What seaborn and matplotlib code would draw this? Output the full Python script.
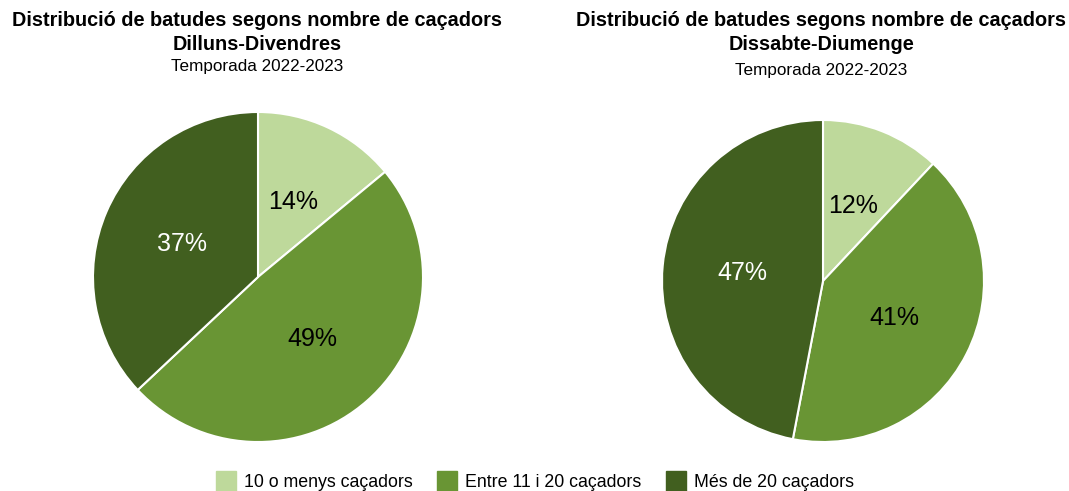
import matplotlib
matplotlib.use("Agg")
import matplotlib.pyplot as plt
import seaborn as sns

categories = ["10 o menys caçadors", "Entre 11 i 20 caçadors", "Més de 20 caçadors"]
weekday_pct = [14, 49, 37]
weekend_pct = [12, 41, 47]
panel_titles = ["Dilluns-Divendres", "Dissabte-Diumenge"]
main_title = "Distribució de batudes segons nombre de caçadors"
season = "Temporada 2022-2023"

sns.set_theme(style="white")
plt.rcParams["font.family"] = ["Liberation Sans", "DejaVu Sans"]
plt.rcParams["text.color"] = "black"
palette = ["#bed99b", "#699534", "#415f1f"]
label_colors = ["black", "black", "white"]

fig = plt.figure(figsize=(10.69, 4.91), dpi=100)

# pie axes: centre / radius in pixels
panels = [(258, 277, 165, weekday_pct, 257, 20, 44, 67),
          (823, 281, 161, weekend_pct, 821, 20, 44, 70)]
W, H = 1069, 491

for (cx, cy, r, vals, tx, y1, y2, y3), sub in zip(panels, panel_titles):
    ax = fig.add_axes([(cx - r) / W, (H - cy - r) / H, 2 * r / W, 2 * r / H])
    wedges, texts, autotexts = ax.pie(
        vals, colors=palette, startangle=90, counterclock=False,
        autopct="%d%%", pctdistance=0.5,
        wedgeprops=dict(edgecolor="white", linewidth=1.5),
        textprops=dict(fontsize=18))
    for t, c in zip(autotexts, label_colors):
        t.set_color(c)
    ax.set_xlim(-1, 1)
    ax.set_ylim(-1, 1)
    ax.set_aspect("equal")
    ax.axis("off")
    fig.text(tx / W, 1 - y1 / H, main_title, ha="center", va="center",
             fontsize=14.3, fontweight="bold")
    fig.text(tx / W, 1 - y2 / H, sub, ha="center", va="center",
             fontsize=14.3, fontweight="bold")
    fig.text(tx / W, 1 - y3 / H, season, ha="center", va="center",
             fontsize=12.3)

handles = [plt.Rectangle((0, 0), 1, 1, color=c) for c in palette]
fig.legend(handles, categories, loc="center", bbox_to_anchor=(535 / W, 1 - 481 / H),
           ncol=3, frameon=False, fontsize=12.8, handlelength=1.1, handleheight=1.3,
           columnspacing=1.4, handletextpad=0.45)

fig.savefig("out.png", dpi=100)
